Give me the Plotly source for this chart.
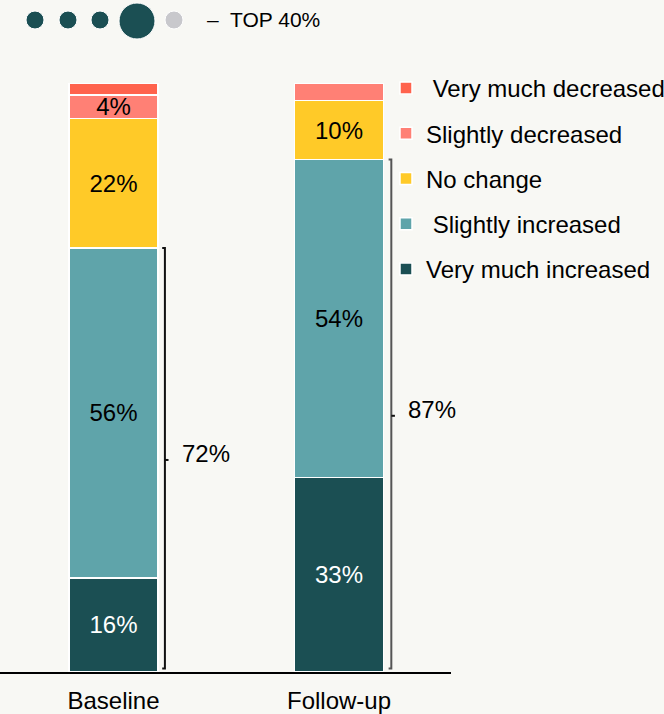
import plotly.graph_objects as go

categories = ["Baseline", "Follow-up"]
series_names = ["Very much increased", "Slightly increased", "No change",
                "Slightly decreased", "Very much decreased"]
legend_labels = ["Very much increased", " Slightly increased", "No change",
                 "Slightly decreased", " Very much decreased"]
very_much_increased = [16, 33]
slightly_increased = [56, 54]
no_change = [22, 10]
slightly_decreased = [4, 3]
very_much_decreased = [2, 0]
colors = ["#1B4F53", "#5FA4AA", "#FFCA28", "#FF8075", "#FF634D"]
text_colors = ["white", "black", "black", "black", "black"]

series = [very_much_increased, slightly_increased, no_change,
          slightly_decreased, very_much_decreased]

FONT = "Liberation Sans, Arial, sans-serif"
W, H = 664, 714
ML, MR, MT, MB = 0, 213, 83, 42
PW, PH = W - ML - MR, H - MT - MB

fig = go.Figure()
xs = [0, 1]
n = len(series)
for i, (name, vals) in enumerate(zip(series_names, series)):
    fig.add_trace(go.Bar(
        x=xs, y=vals, name=legend_labels[i], legendgroup=name,
        legendrank=n - i,
        marker=dict(color=colors[i], line=dict(color="white", width=1.5)),
        width=0.395,
        text=[f"{v}%" if v >= 4 else "" for v in vals],
        textposition="inside", insidetextanchor="middle", textangle=0,
        textfont=dict(size=24, color=text_colors[i], family=FONT),
        hoverinfo="skip",
    ))

# brackets for top-2 totals
top2 = [a + b for a, b in zip(very_much_increased, slightly_increased)]
bracket_offsets = [0.228, 0.232]
bracket_colors = ["#111111", "#555555"]
hook = 0.012
for i, tot in enumerate(top2):
    bx = xs[i] + bracket_offsets[i]
    c = bracket_colors[i]
    fig.add_shape(type="path",
                  path=f"M {bx-hook},{tot} L {bx},{tot} L {bx},{0.6} L {bx-hook},{0.6}",
                  xref="x", yref="y", line=dict(color=c, width=2))
    fig.add_shape(type="line", x0=bx, x1=bx + 0.016, y0=tot / 2, y1=tot / 2,
                  xref="x", yref="y", line=dict(color="#111111", width=2))
    fig.add_annotation(x=bx, y=tot / 2, text=f"{tot}%", xref="x", yref="y",
                       xanchor="left", yanchor="middle", showarrow=False,
                       xshift=15, yshift=6,
                       font=dict(size=24, color="black", family=FONT))

# header decoration (dots + TOP 40%)
def px2paper(px, py):
    return (px - ML) / PW, (H - MB - py) / PH

dots = [(35, 20, 9, "#1B4F53"), (68, 20, 9, "#1B4F53"), (100, 20, 9, "#1B4F53"),
        (137, 21, 18, "#1B4F53"), (174, 20, 9, "#C8C8CC")]
for cx, cy, r, col in dots:
    x0, y0 = px2paper(cx - r, cy + r)
    x1, y1 = px2paper(cx + r, cy - r)
    fig.add_shape(type="circle", xref="paper", yref="paper",
                  x0=x0, x1=x1, y0=y0, y1=y1, fillcolor=col,
                  line=dict(color="white", width=1))
tx, ty = px2paper(205, 20)
fig.add_annotation(x=tx, y=ty, xref="paper", yref="paper", text="–  TOP 40%",
                   showarrow=False, xanchor="left", yanchor="middle",
                   font=dict(size=21, color="black", family=FONT))

lx, ly = px2paper(386, 66)
fig.update_layout(
    width=W, height=H,
    margin=dict(l=ML, r=MR, t=MT, b=MB, autoexpand=False),
    barmode="stack",
    paper_bgcolor="#F8F8F4", plot_bgcolor="#F8F8F4",
    font=dict(family=FONT, size=24, color="black"),
    uniformtext=dict(mode="show", minsize=24),
    legend=dict(x=lx, y=ly, xanchor="left", yanchor="top",
                traceorder="grouped", tracegroupgap=11,
                font=dict(size=24, family=FONT, color="black"),
                bgcolor="rgba(0,0,0,0)", itemclick=False),
    showlegend=True,
)
fig.update_xaxes(range=[-113.5 / 225.5, (PW - 113.5) / 225.5],
                 tickvals=xs, ticktext=categories, showline=True,
                 linecolor="black", linewidth=2, ticks="", showgrid=False,
                 ticklabelstandoff=6,
                 zeroline=False, tickfont=dict(size=24, family=FONT, color="black"))
fig.update_yaxes(range=[0, 100], visible=False, showgrid=False)

fig.write_html("out.html", config={"displayModeBar": False},
               post_script="document.body.style.margin='0px';document.body.style.overflow='hidden';")
